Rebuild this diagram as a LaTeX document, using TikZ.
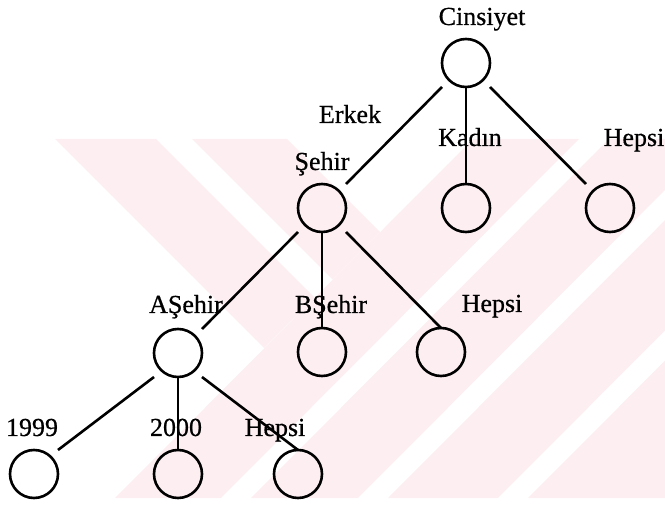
\documentclass[tikz,border=0pt]{standalone}
\usepackage{fontspec}
\setmainfont[FakeBold=0.6]{Liberation Serif}
\definecolor{wmpink}{RGB}{253,238,241}
\begin{document}
\begin{tikzpicture}[x=1pt,y=-1pt,
  lbl/.style={anchor=base, inner sep=0pt, font=\fontsize{26}{30}\selectfont},
  slot/.style={rectangle, minimum size=48pt, inner sep=0pt, outer sep=0pt},
  ring/.style={line width=2.6pt},
  edge/.style={line width=2.6pt},
  band/.style={fill=wmpink, draw=none}]
\useasboundingbox (0,0) rectangle (665,505);

% background stripes
\begin{scope}
  \clip (0,139) rectangle (665,498);
  \fill[band] (55,139) -- (156,139) -- (314.5,297.5) -- (264,348) -- cycle;
  \fill[band] (192,139) -- (287,139) -- (380,232) -- (332.5,279.5) -- cycle;
  \fill[band] (473,139) -- (579,139) -- (221,498) -- (115,498) -- cycle;
  \fill[band] (609,139) -- (716,139) -- (358,498) -- (251,498) -- cycle;
  \fill[band] (746,139) -- (856,139) -- (498,498) -- (388,498) -- cycle;
  \fill[band] (886,139) -- (1200,139) -- (840,498) -- (528,498) -- cycle;
\end{scope}

% tree nodes
\node[slot] (root)    at (466,63)  {};
\node[slot] (city)    at (322,208) {};
\node[slot] (female)  at (466,208) {};
\node[slot] (allsex)  at (610,208) {};
\node[slot] (acity)   at (178,353) {};
\node[slot] (bcity)   at (322,352) {};
\node[slot] (allcity) at (441,352) {};
\node[slot] (yA)      at (34,474)  {};
\node[slot] (yB)      at (178,474) {};
\node[slot] (allyear) at (298,474) {};

\foreach \n in {root,city,female,allsex,acity,bcity,allcity,yA,yB,allyear}
  \draw[ring] (\n.center) circle[radius=24pt];

% connectors
\draw[edge] (root.south west) -- (city.north east);
\draw[edge] (root.south) -- (female.north);
\draw[edge] (root.south east) -- (allsex.north west);
\draw[edge] (city.south west) -- (acity.north east);
\draw[edge] (city.south) -- (bcity.north);
\draw[edge] (city.south east) -- (allcity.north);
\draw[edge] (acity.south west) -- (yA.north east);
\draw[edge] (acity.south) -- (yB.north);
\draw[edge] (acity.south east) -- (allyear.north);

% labels
\node[lbl] (tCins)  at (482,25)  {Cinsiyet};
\node[lbl] (tErk)   at (350,123) {Erkek};
\node[lbl] (tKad)   at (470,146) {Kadın};
\node[lbl] (tHep1)  at (634,146) {Hepsi};
\node[lbl] (tSeh)   at (322,170) {Şehir};
\node[lbl] (tASeh)  at (186,313) {AŞehir};
\node[lbl] (tBSeh)  at (331,313) {BŞehir};
\node[lbl] (tHep2)  at (492,312) {Hepsi};
\node[lbl] (t1999)  at (32,436)  {1999};
\node[lbl] (t2000)  at (176,436) {2000};
\node[lbl] (tHep3)  at (275,436) {Hepsi};
\end{tikzpicture}
\end{document}
